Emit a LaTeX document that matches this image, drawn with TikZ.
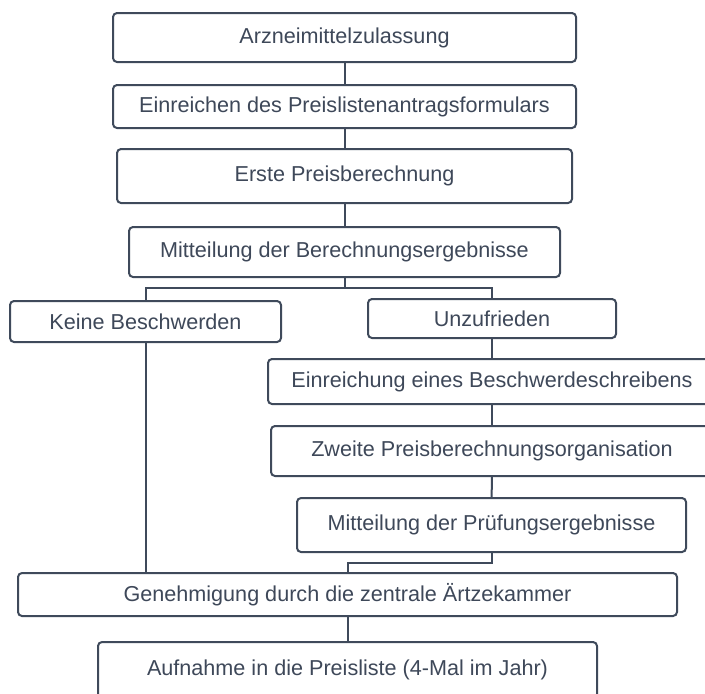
\documentclass[tikz,border=0pt]{standalone}
\usepackage{fontspec}
\setsansfont{Liberation Sans}
\usetikzlibrary{positioning, calc}

\definecolor{boxline}{HTML}{3F4A5B}
\definecolor{boxtext}{HTML}{3E4859}

\begin{document}
\begin{tikzpicture}[
    x=0.5pt, y=-0.5pt,
    box/.style={draw=boxline, line width=1pt, rounded corners=2pt, fill=white,
                inner sep=0pt, align=center, text=boxtext,
                font=\sffamily\fontsize{10.8}{12}\selectfont},
    link/.style={draw=boxline, line width=1pt}
  ]
  \useasboundingbox (0,0) rectangle (705,693);

  % main line
  \node[box, minimum width=231.5pt, minimum height=24.5pt] (zulass) at (344.5,37.5) {Arzneimittelzulassung};
  \node[box, minimum width=231.5pt, minimum height=21.5pt] (antrag) at (344.5,106.5) {Einreichen des Preislistenantragsformulars};
  \node[box, minimum width=227.5pt, minimum height=27pt] (erste) at (344.5,176) {Erste Preisberechnung};
  \node[box, minimum width=215.5pt, minimum height=25pt] (mitteil) at (344.5,252) {Mitteilung der Berechnungsergebnisse};

  % the two answers
  \node[box, minimum width=135.5pt, minimum height=20.5pt] (keine) at (145.5,321.5) {Keine Beschwerden};
  \node[box, minimum width=124pt, minimum height=19.5pt] (unzuf) at (492,318.5) {Unzufrieden};

  % complaint path
  \node[box, minimum width=224pt, minimum height=22.5pt] (einreich) at (492,381.5) {Einreichung eines Beschwerdeschreibens};
  \node[box, minimum width=221pt, minimum height=25pt] (zweite) at (492,451) {Zweite Preisberechnungsorganisation};
  \node[box, minimum width=194.5pt, minimum height=27pt] (pruef) at (491.5,525) {Mitteilung der Prüfungsergebnisse};

  % end
  \node[box, minimum width=329.5pt, minimum height=21.5pt] (genehm) at (347.5,594.5) {Genehmigung durch die zentrale Ärtzekammer};
  \node[box, minimum width=249.5pt, minimum height=28pt] (aufnahme) at (347.5,670) {Aufnahme in die Preisliste (4-Mal im Jahr)};

  \coordinate (split) at (344.5,288);
  \coordinate (merge) at (347.5,563);

  % connectors
  \draw[link] (zulass) -- (antrag);
  \draw[link] (antrag) -- (erste);
  \draw[link] (erste) -- (mitteil);
  \draw[link] (mitteil.south) -- (split);
  \draw[link] (keine.north) |- (split) -| (unzuf.north);
  \draw[link] (unzuf) -- (einreich);
  \draw[link] (einreich) -- (zweite);
  \draw[link] (zweite) -- (pruef);
  \draw[link] (pruef.south) |- (merge) -- (genehm.north);
  \draw[link] (keine.south) -- (keine.south |- genehm.north);
  \draw[link] (genehm) -- (aufnahme);

\end{tikzpicture}
\end{document}
